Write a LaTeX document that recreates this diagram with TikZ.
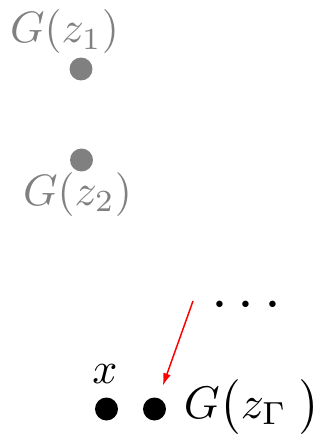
\documentclass[tikz,border=0pt]{standalone}
\usepackage{amsmath,amssymb}
\usetikzlibrary{arrows.meta, positioning}
\definecolor{sgray}{HTML}{808080}
\definecolor{sred}{HTML}{FF0000}
\tikzset{
  sample/.style={circle, fill=#1, inner sep=0pt, minimum size=0.46cm},
  sample/.default=black,
  slabel/.style={text=#1, inner sep=0pt, anchor=base, scale=2.5, transform shape},
  slabel/.default=black,
  harr/.style={-{Latex[length=7pt, width=4.5pt]}, sred, line width=0.85pt},
}

\begin{document}
\begin{tikzpicture}[x=0.02cm, y=-0.02cm]
  \useasboundingbox (0,0) rectangle (320,439);

  %% Generated samples (gray)
  \node[sample=sgray] (gz1) at (81,69) {};
  \node[slabel=sgray] (lz1) at (64.5,43) {$G(z_1)$};

  \node[sample=sgray] (gz2) at (81.5,160) {};
  \node[slabel=sgray] (lz2) at (77.5,205) {$G(z_2)$};

  %% Ellipsis
  \node[inner sep=0pt, anchor=base, scale=3.45, transform shape] (more) at (251.5,319) {$\cdots$};

  %% Real sample and the closest generated one
  \node[sample] (x) at (106.5,409) {};
  \node[slabel] (lx) at (105,383) {$x$};

  \node[sample] (gzG) at (154.5,409) {};
  \node[slabel, scale=1.04, anchor=base west] (lzG) at (183,418) {$G\bigl(z_\Gamma\;\bigr)$};

  %% Arrow into G(z_Gamma)
  \coordinate (tail) at (193,301);
  \draw[harr, shorten >=0.26cm] (tail) -- (gzG);

\end{tikzpicture}
\end{document}
